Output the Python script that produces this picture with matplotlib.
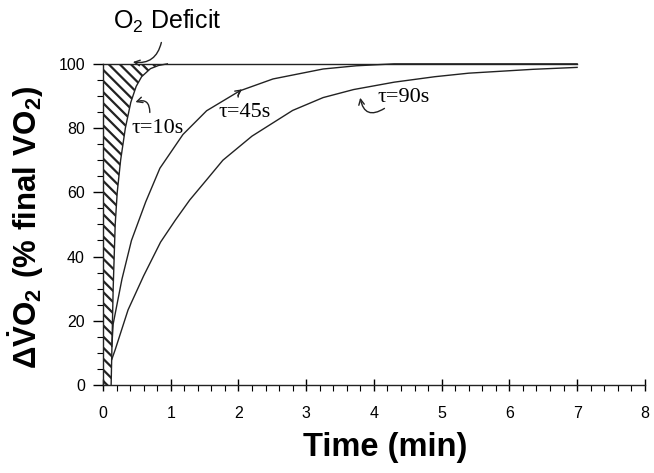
import matplotlib
matplotlib.use("Agg")
import matplotlib.pyplot as plt
from matplotlib.ticker import MultipleLocator

# 데이터
tau10_t = [0.12, 0.13, 0.15, 0.18, 0.21, 0.26, 0.33, 0.41, 0.49, 0.57, 0.70, 0.82, 0.95]
tau10_v = [0, 10, 30, 50, 60, 70, 80, 88, 93, 96, 98.5, 99.5, 100]

tau45_t = [0.13, 0.15, 0.28, 0.42, 0.63, 0.84, 1.18, 1.53, 2.02, 2.51, 3.25, 3.74, 4.3, 7.0]
tau45_v = [12, 19, 33, 45, 57, 67.5, 78, 85.4, 91.6, 95.3, 98.4, 99.4, 100, 100]

tau90_t = [0.13, 0.18, 0.37, 0.6, 0.85, 1.07, 1.28, 1.53, 1.77, 2.2, 2.8, 3.25, 3.7,
           4.3, 4.9, 5.4, 6.35, 7.0]
tau90_v = [8, 11, 23.4, 34, 44.5, 51.4, 57.6, 63.9, 70, 77.5, 85.5, 89.5, 92,
           94.3, 96, 97.1, 98.3, 98.9]

steady_t = [0, 7.0]
steady_v = [100, 100]

plt.rcParams["font.family"] = ["Liberation Sans", "DejaVu Sans"]
plt.rcParams["mathtext.fontset"] = "custom"
plt.rcParams["mathtext.rm"] = "Liberation Sans"
plt.rcParams["mathtext.bf"] = "Liberation Sans:bold"
plt.rcParams["hatch.linewidth"] = 1.6

ink = "#222222"

fig = plt.figure(figsize=(6.54, 4.73), dpi=100)
ax = fig.add_axes([0.1575, 0.186, 0.8285, 0.679])

# O2 deficit 빗금 영역
ax.fill_betweenx(tau10_v, 0, tau10_t, hatch="\\\\\\", facecolor="white",
                 edgecolor=ink, linewidth=0)

lw = 1.0
ax.plot(steady_t, steady_v, color=ink, lw=lw, clip_on=False)
ax.plot(tau10_t, tau10_v, color=ink, lw=lw, clip_on=False)
ax.plot(tau45_t, tau45_v, color=ink, lw=lw, clip_on=False)
ax.plot(tau90_t, tau90_v, color=ink, lw=lw, clip_on=False)

ax.set_xlim(0, 8)
ax.set_ylim(0, 100)
ax.xaxis.set_major_locator(MultipleLocator(1))
ax.xaxis.set_minor_locator(MultipleLocator(0.2))
ax.yaxis.set_major_locator(MultipleLocator(20))
ax.yaxis.set_minor_locator(MultipleLocator(5))
ax.tick_params(axis="x", which="major", direction="inout", length=8, width=1, labelsize=11.5, pad=11)
ax.tick_params(axis="x", which="minor", direction="out", length=4, width=0.8)
ax.tick_params(axis="y", which="major", direction="out", length=7, width=1, labelsize=11.5, pad=6)
ax.tick_params(axis="y", which="minor", direction="out", length=4, width=0.8)

for s in ["top", "right"]:
    ax.spines[s].set_visible(False)
for s in ["left", "bottom"]:
    ax.spines[s].set_color(ink)
    ax.spines[s].set_linewidth(1.0)

ax.set_xlabel("Time (min)", fontsize=23.5, fontweight="bold")
ax.xaxis.set_label_coords(0.52, -0.145)
ax.set_ylabel(r"$\mathbf{\Delta\dot{V}O_2\ (\%\ final\ VO_2)}$", fontsize=22.5)
ax.yaxis.set_label_coords(-0.105, 0.49)

# 주석
ax.text(0.95, 111, "O$_2$ Deficit", fontsize=18, ha="center", va="baseline", clip_on=False)
ax.annotate("", xy=(0.40, 100.7), xytext=(0.87, 107.5),
            arrowprops=dict(arrowstyle="->", color=ink, lw=1.0,
                            connectionstyle="arc3,rad=-0.5"),
            annotation_clip=False)

serif = ["Liberation Serif", "DejaVu Serif"]
ax.text(0.8, 80.0, "τ=10s", fontsize=16, family=serif, ha="center", va="center")
ax.annotate("", xy=(0.44, 87.8), xytext=(0.69, 84),
            arrowprops=dict(arrowstyle="->", color=ink, lw=1.0,
                            connectionstyle="arc3,rad=0.8"))

ax.text(2.09, 85, "τ=45s", fontsize=16, family=serif, ha="center", va="center")
ax.annotate("", xy=(2.09, 92.5), xytext=(2.0, 88.8),
            arrowprops=dict(arrowstyle="->", color=ink, lw=1.0,
                            connectionstyle="arc3,rad=-0.4"))

ax.text(4.44, 89.6, "τ=90s", fontsize=16, family=serif, ha="center", va="center")
ax.annotate("", xy=(3.79, 90.3), xytext=(4.19, 86.6),
            arrowprops=dict(arrowstyle="->", color=ink, lw=1.0,
                            connectionstyle="arc3,rad=-0.8"))

fig.savefig("out.png", dpi=100)
